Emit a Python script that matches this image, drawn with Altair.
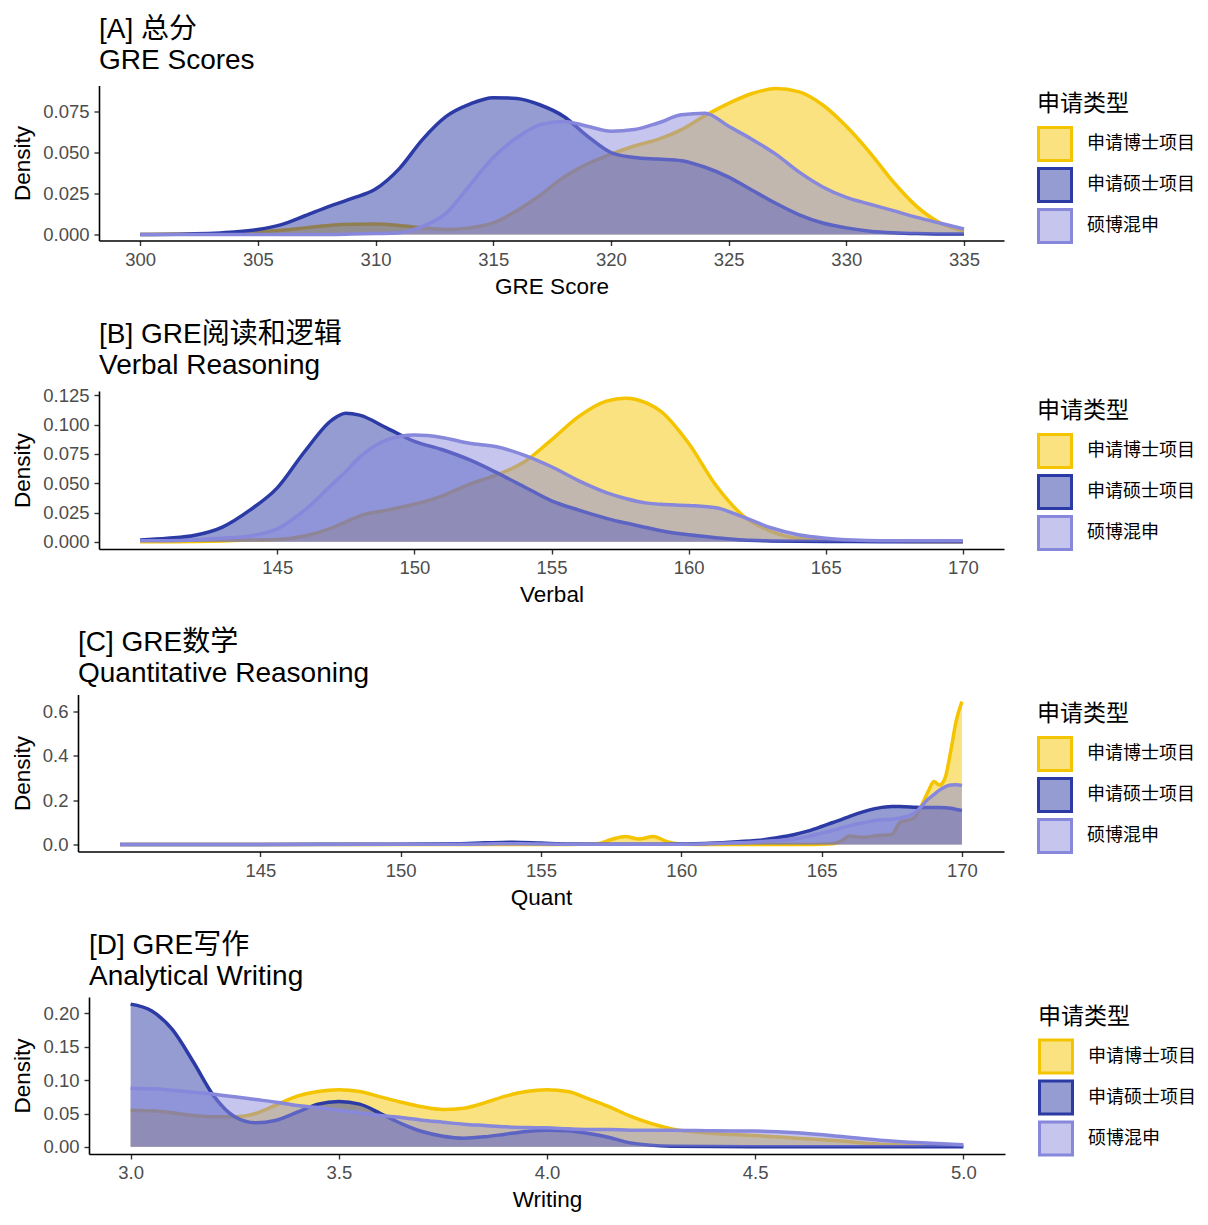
import altair as alt
import pandas as pd

FONT = "'Liberation Sans', 'Noto Sans CJK SC', sans-serif"
CJK = "'Noto Sans CJK SC', 'Liberation Sans', sans-serif"

TYPES = ["申请博士项目", "申请硕士项目", "硕博混申"]
FILL = ["rgba(243,197,0,0.5)", "rgba(44,58,166,0.5)", "rgba(139,139,221,0.5)"]
STROKE = ["#F5C400", "#2C3AA6", "#8787DB"]

# ---------------- [A] GRE total score ----------------
gre_x = [300, 302, 304, 305, 306, 307, 308, 309, 310, 311, 312, 313, 314, 315, 316, 317, 318,
         319, 320, 321, 322, 323, 324, 325, 326, 327, 328, 329, 330, 331, 332, 333, 334, 335]
gre_phd = [0.0, 0.0002, 0.0008, 0.0015, 0.0025, 0.004, 0.0055, 0.0062, 0.0063, 0.0055, 0.004,
           0.003, 0.004, 0.007, 0.0145, 0.024, 0.035, 0.043, 0.049, 0.054, 0.058, 0.064, 0.0725,
           0.080, 0.086, 0.089, 0.087, 0.079, 0.066, 0.050, 0.032, 0.017, 0.007, 0.002]
gre_ms = [0.0, 0.0003, 0.0015, 0.003, 0.006, 0.0114, 0.017, 0.022, 0.0277, 0.040, 0.058, 0.072,
          0.0795, 0.0835, 0.083, 0.079, 0.072, 0.060, 0.050, 0.047, 0.046, 0.045, 0.041, 0.035,
          0.027, 0.019, 0.012, 0.007, 0.004, 0.002, 0.001, 0.0005, 0.0003, 0.0002]
gre_mix = [0.0, 0.0, 0.0, 0.0, 0.0, 0.0, 0.0, 0.0002, 0.0005, 0.001, 0.005, 0.013, 0.03, 0.047,
           0.059, 0.067, 0.069, 0.066, 0.063, 0.064, 0.068, 0.073, 0.074, 0.066, 0.058, 0.049,
           0.038, 0.029, 0.0226, 0.0185, 0.0145, 0.0104, 0.0068, 0.0033]

# ---------------- [B] Verbal ----------------
vb_x = [140, 141, 142, 143, 144, 145, 146, 147, 147.5, 148, 149, 150, 151, 152, 153, 154, 155,
        156, 157, 157.7, 158.5, 159, 160, 161, 162, 163, 164, 165, 166, 167, 168, 170]
vb_phd = [0.0, 0.0, 0.0003, 0.0008, 0.0015, 0.002, 0.005, 0.012, 0.017, 0.022, 0.027, 0.032,
          0.039, 0.049, 0.057, 0.068, 0.087, 0.107, 0.120, 0.1225, 0.118, 0.111, 0.084, 0.048,
          0.022, 0.009, 0.003, 0.0015, 0.0008, 0.0005, 0.0003, 0.0]
vb_ms = [0.0015, 0.003, 0.0056, 0.0126, 0.027, 0.046, 0.077, 0.104, 0.1096, 0.108, 0.097, 0.0857,
         0.0787, 0.070, 0.059, 0.047, 0.035, 0.027, 0.020, 0.016, 0.012, 0.0095, 0.006, 0.0035,
         0.0015, 0.0008, 0.0005, 0.0003, 0.0002, 0.0001, 0.0001, 0.0]
vb_mix = [0.001, 0.001, 0.0015, 0.003, 0.005, 0.011, 0.027, 0.049, 0.060, 0.072, 0.087, 0.091,
          0.089, 0.084, 0.081, 0.074, 0.064, 0.052, 0.042, 0.037, 0.033, 0.032, 0.031, 0.029,
          0.021, 0.012, 0.006, 0.003, 0.0015, 0.001, 0.001, 0.001]

# ---------------- [C] Quant ----------------
qt_x = [140, 145, 150, 152, 153, 154, 155, 156, 157, 157.5, 158, 158.5, 159, 159.5, 160, 161,
        162, 163, 163.5, 164, 164.5, 165, 165.4, 165.7, 166, 166.5, 167, 167.5, 167.8, 168,
        168.3, 168.5, 168.8, 169, 169.2, 169.4, 169.6, 169.8, 170]
qt_phd = [0.0, 0.0, 0.0, 0.0, 0.0, 0.0, 0.0, 0.0, 0.003, 0.022, 0.036, 0.024, 0.036, 0.012, 0.001,
          0.0, 0.0, 0.0, 0.0, 0.0, 0.0, 0.0005, 0.003, 0.015, 0.038, 0.032, 0.040, 0.045, 0.100,
          0.107, 0.120, 0.160, 0.240, 0.284, 0.268, 0.300, 0.420, 0.560, 0.645]
qt_ms = [0.0, 0.0, 0.001, 0.003, 0.007, 0.010, 0.006, 0.002, 0.001, 0.001, 0.001, 0.001, 0.001,
         0.001, 0.002, 0.005, 0.012, 0.022, 0.032, 0.044, 0.060, 0.081, 0.099, 0.112, 0.127,
         0.148, 0.164, 0.171, 0.171, 0.170, 0.168, 0.167, 0.167, 0.167, 0.167, 0.166, 0.163,
         0.158, 0.153]
qt_mix = [0.0, 0.0, 0.0005, 0.001, 0.002, 0.003, 0.002, 0.001, 0.001, 0.001, 0.001, 0.001, 0.001,
          0.001, 0.001, 0.003, 0.007, 0.014, 0.018, 0.024, 0.036, 0.051, 0.063, 0.074, 0.085,
          0.098, 0.110, 0.114, 0.119, 0.125, 0.141, 0.164, 0.205, 0.225, 0.245, 0.260, 0.268,
          0.270, 0.266]

# ---------------- [D] Writing ----------------
wr_x = [3.0, 3.05, 3.1, 3.15, 3.2, 3.25, 3.3, 3.35, 3.4, 3.45, 3.5, 3.55, 3.6, 3.65, 3.7, 3.75,
        3.8, 3.85, 3.9, 3.95, 4.0, 4.05, 4.1, 4.15, 4.2, 4.3, 4.4, 4.5, 4.6, 4.7, 4.8, 4.9, 5.0]
wr_phd = [0.055, 0.054, 0.051, 0.047, 0.045, 0.045, 0.050, 0.063, 0.076, 0.083, 0.0855, 0.083,
          0.075, 0.067, 0.060, 0.056, 0.058, 0.066, 0.076, 0.083, 0.0855, 0.083, 0.072, 0.060,
          0.046, 0.027, 0.020, 0.017, 0.013, 0.009, 0.004, 0.002, 0.001]
wr_ms = [0.214, 0.204, 0.176, 0.128, 0.076, 0.045, 0.036, 0.040, 0.052, 0.064, 0.068, 0.064,
         0.050, 0.035, 0.023, 0.016, 0.013, 0.015, 0.019, 0.023, 0.025, 0.024, 0.020, 0.014,
         0.006, 0.001, 0.0005, 0.0003, 0.0003, 0.0003, 0.0003, 0.0002, 0.0002]
wr_mix = [0.088, 0.087, 0.085, 0.082, 0.079, 0.075, 0.071, 0.067, 0.062, 0.059, 0.055, 0.051,
          0.047, 0.044, 0.040, 0.037, 0.034, 0.032, 0.030, 0.029, 0.0286, 0.027, 0.026, 0.026,
          0.025, 0.025, 0.024, 0.0237, 0.021, 0.016, 0.010, 0.006, 0.003]


def panel(x, phd, ms, mix, title, xtitle, xdom, xticks, xfmt, ydom, yticks, yfmt, w, h):
    n = len(x)
    df = pd.DataFrame({
        "x": list(x) * 3,
        "density": list(phd) + list(ms) + list(mix),
        "type": [TYPES[0]] * n + [TYPES[1]] * n + [TYPES[2]] * n,
    })
    xenc = alt.X("x:Q", scale=alt.Scale(domain=xdom, nice=False, zero=False),
                 axis=alt.Axis(values=xticks, format=xfmt, title=xtitle))
    yenc = alt.Y("density:Q", scale=alt.Scale(domain=ydom, nice=False, zero=False),
                 axis=alt.Axis(values=yticks, format=yfmt, title="Density"))
    leg = alt.Legend(title="申请类型", symbolType="square", symbolSize=1089,
                     symbolStrokeWidth=3, orient="none", legendX=w + 33,
                     legendY=(h - 146) / 2 + 3)
    fill = alt.Fill("type:N", scale=alt.Scale(domain=TYPES, range=FILL), legend=leg)
    stroke = alt.Stroke("type:N", scale=alt.Scale(domain=TYPES, range=STROKE), legend=leg)
    stroke_nl = alt.Stroke("type:N", scale=alt.Scale(domain=TYPES, range=STROKE), legend=None)
    layers = []
    for t in TYPES:
        base = alt.Chart(df).transform_filter(alt.datum.type == t)
        area = base.mark_area(interpolate="monotone", opacity=1, strokeWidth=0).encode(
            x=xenc, y=yenc, y2=alt.datum(0), fill=fill, stroke=stroke)
        line = base.mark_line(interpolate="monotone", strokeWidth=3.5).encode(
            x=xenc, y=yenc, stroke=stroke_nl)
        layers += [area, line]
    return alt.layer(*layers).properties(
        width=w, height=h,
        title=alt.TitleParams(title, anchor="start", frame="group", fontSize=28, font=FONT,
                              fontWeight="normal", color="black", lineHeight=31, offset=6.5),
    )


def spacer():
    return alt.Chart(pd.DataFrame({"a": [0]})).mark_point(opacity=0, size=0).encode(
        x=alt.X("a:Q", axis=None), y=alt.Y("a:Q", axis=None)
    ).properties(width=1, height=1)


pA = panel(gre_x, gre_phd, gre_ms, gre_mix, ["[A] 总分", "GRE Scores"], "GRE Score",
           [298.25, 336.7], [300, 305, 310, 315, 320, 325, 330, 335], "d",
           [-0.0037, 0.0909], [0, 0.025, 0.05, 0.075], ".3f", 905, 155)
pB = panel(vb_x, vb_phd, vb_ms, vb_mix, ["[B] GRE阅读和逻辑", "Verbal Reasoning"], "Verbal",
           [138.5, 171.5], [145, 150, 155, 160, 165, 170], "d",
           [-0.0061, 0.1286], [0, 0.025, 0.05, 0.075, 0.1, 0.125], ".3f", 905, 158)
pC = panel(qt_x, qt_phd, qt_ms, qt_mix, ["[C] GRE数学", "Quantitative Reasoning"], "Quant",
           [138.5, 171.5], [145, 150, 155, 160, 165, 170], "d",
           [-0.032, 0.677], [0, 0.2, 0.4, 0.6], ".1f", 926, 157)
pD = panel(wr_x, wr_phd, wr_ms, wr_mix, ["[D] GRE写作", "Analytical Writing"], "Writing",
           [2.9, 5.1], [3.0, 3.5, 4.0, 4.5, 5.0], ".1f",
           [-0.0107, 0.2247], [0, 0.05, 0.1, 0.15, 0.2], ".2f", 916, 157)

chart = alt.concat(spacer(), pA, spacer(), pB, spacer(), pC, spacer(), pD, columns=2).properties(
    align="none", spacing={"row": 22.5, "column": 0}, background="white",
    padding={"left": 2, "top": 7.5, "right": 0, "bottom": 0},
).resolve_scale(
    x="independent", y="independent", fill="independent", stroke="independent"
).resolve_legend(
    fill="independent", stroke="independent"
).configure_view(stroke=None).configure_axis(
    grid=False, domainColor="black", domainWidth=1.6, tickColor="#333333", tickWidth=1.4,
    tickSize=5, labelFont=FONT, labelFontSize=18.5, labelColor="#4D4D4D", labelPadding=4.5,
    titleFont=FONT, titleFontSize=22.5, titleFontWeight="normal", titleColor="black",
).configure_axisX(titlePadding=6.5, labelFlush=False, labelOverlap=False).configure_axisY(
    titlePadding=8, labelPadding=5,
).configure_legend(
    padding=0, titleFont=CJK, titleFontSize=23,
    titleFontWeight="normal", titleColor="black", titlePadding=10, labelFont=CJK,
    labelFontSize=18, labelColor="black", labelOffset=14, rowPadding=-12,
)

chart.save("out.html", embed_options={"renderer": "svg", "actions": False})
